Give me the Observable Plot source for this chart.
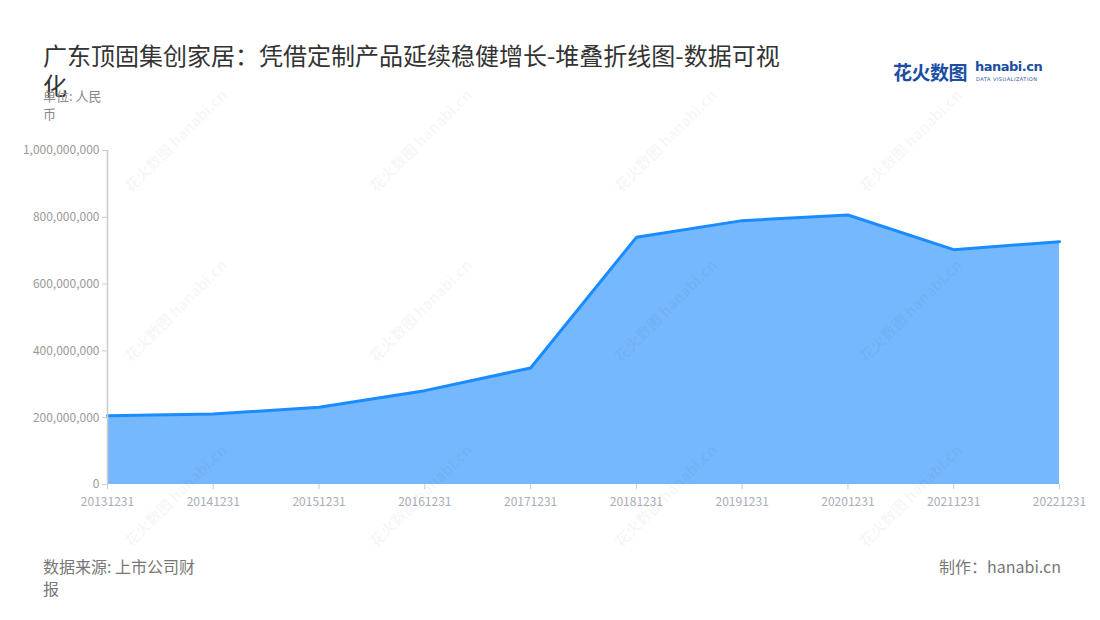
<!DOCTYPE html>
<html>
<head>
<meta charset="utf-8">
<script src="https://cdn.jsdelivr.net/npm/d3@7"></script>
<script src="https://cdn.jsdelivr.net/npm/@observablehq/plot@0.6"></script>
<style>
  html, body { margin: 0; padding: 0; background: #fff; }
  body { width: 1100px; height: 620px; position: relative; overflow: hidden;
         font-family: "Noto Sans CJK SC", "Noto Sans", sans-serif; }
  #title { position: absolute; left: 43px; top: 40px; width: 745px; font-size: 24px;
           line-height: 30px; color: #333; }
  #unit { position: absolute; left: 43px; top: 87px; width: 68px; font-size: 13px;
          line-height: 18px; color: #888; }
  #chart { position: absolute; left: 0; top: 120px; }
  #source { position: absolute; left: 43px; top: 555px; width: 158px; font-size: 16px;
            line-height: 22px; color: #777; }
  #maker { position: absolute; right: 39px; top: 555px; font-size: 16px; line-height: 22px; color: #777; }
  #logo { position: absolute; left: 893px; top: 58px; height: 30px; }
  #logo .cn { position: absolute; left: 0; top: 0; font-size: 19px; font-weight: 700; color: #1b4ea3;
              letter-spacing: -0.5px; white-space: nowrap; }
  #logo .en { position: absolute; left: 82px; top: 1px; font-family: "DejaVu Sans", sans-serif; font-size: 13px;
              font-weight: 700; color: #1b4ea3; white-space: nowrap; letter-spacing: -0.5px; }
  #logo .sub { position: absolute; left: 83px; top: 18px; font-family: "DejaVu Sans", sans-serif; font-size: 5px;
               color: #1b4ea3; white-space: nowrap; letter-spacing: 0.5px; }
  .wm { position: absolute; transform: translate(-50%, -50%) rotate(-45deg); white-space: nowrap;
        color: rgba(0,0,0,0.05); font-size: 15px; font-weight: 700; pointer-events: none; }
</style>
</head>
<body>
<div id="title">广东顶固集创家居：凭借定制产品延续稳健增长-堆叠折线图-数据可视化</div>
<div id="unit">单位: 人民币</div>
<div id="logo"><span class="cn">花火数图</span><span class="en">hanabi.cn</span><span class="sub">DATA VISUALIZATION</span></div>
<div id="chart"></div>
<div id="source">数据来源: 上市公司财报</div>
<div id="maker">制作：hanabi.cn</div>
<script>
const dates = ["20131231","20141231","20151231","20161231","20171231","20181231","20191231","20201231","20211231","20221231"];
const revenue = [206000000, 211000000, 231000000, 281000000, 349000000, 740000000, 790000000, 807000000, 703000000, 727000000];
const yTicks = [0, 200000000, 400000000, 600000000, 800000000, 1000000000];

const data = dates.map((d, i) => ({date: d, value: revenue[i]}));
const fmt = d3.format(",");

const chart = Plot.plot({
  width: 1100,
  height: 390,
  marginLeft: 107,
  marginRight: 41,
  marginTop: 30,
  marginBottom: 26,
  style: {fontFamily: "'Noto Sans CJK SC', 'Noto Sans', sans-serif", fontSize: "12px", color: "#999", background: "transparent"},
  x: {type: "point", domain: dates, padding: 0, round: false, range: [107, 1059], label: null},
  y: {domain: [0, 1000000000], range: [364, 30], label: null},
  marks: [
    Plot.ruleY(yTicks.filter(t => t > 0), {x1: dates[0], x2: dates[dates.length - 1], stroke: "#ddd", strokeDasharray: "4,4", strokeWidth: 1}),
    Plot.areaY(data, {x: "date", y: "value", fill: "#75b8fd"}),
    Plot.lineY(data, {x: "date", y: "value", stroke: "#1a8cff", strokeWidth: 3}),
    Plot.ruleX([dates[0]], {y1: 0, y2: 1000000000, stroke: "#ccc", strokeWidth: 1.5}),
    Plot.ruleY([0], {x1: dates[0], x2: dates[dates.length - 1], stroke: "#ccc", strokeWidth: 1.5}),
    Plot.axisY({ticks: yTicks, tickFormat: fmt, tickSize: 5, tickPadding: 3, stroke: "#ccc", fill: "#999", fontSize: 12, label: null}),
    Plot.axisX({tickSize: 5, tickPadding: 8, stroke: "#ccc", fill: "#a8adb8", fontSize: 12, label: null})
  ]
});
document.getElementById("chart").appendChild(chart);

// faint watermarks
const wmCols = [175, 420, 665, 910];
const wmRows = [140, 310, 495];
for (const cx of wmCols) for (const cy of wmRows) {
  const w = document.createElement("div");
  w.className = "wm";
  w.textContent = "花火数图 hanabi.cn";
  w.style.left = cx + "px";
  w.style.top = cy + "px";
  document.body.appendChild(w);
}
</script>
</body>
</html>
